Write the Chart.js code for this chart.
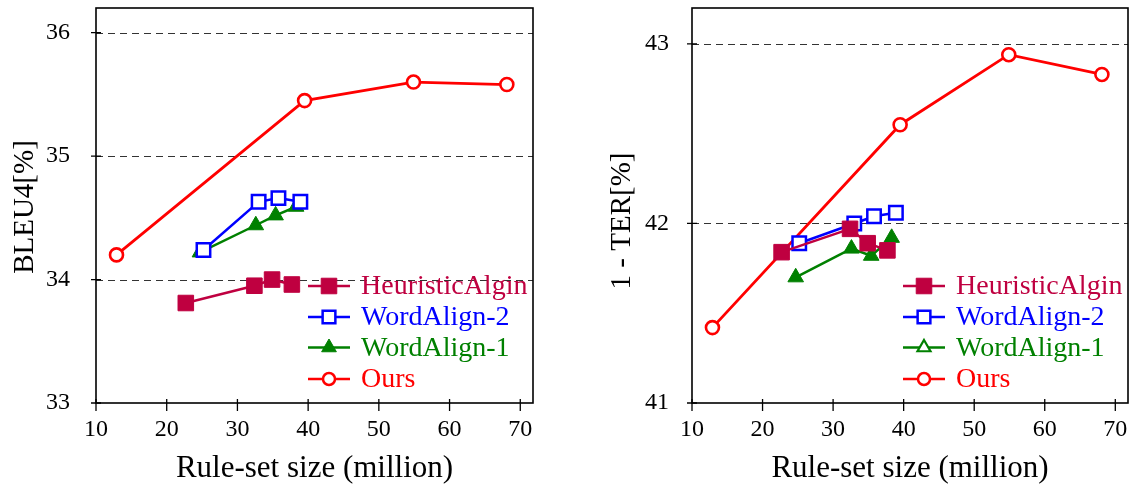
<!DOCTYPE html>
<html>
<head>
<meta charset="utf-8">
<script src="https://cdn.jsdelivr.net/npm/chart.js@4/dist/chart.umd.min.js"></script>
<style>
  html, body { margin: 0; padding: 0; background: #fff; }
  body { width: 1130px; height: 487px; position: relative; overflow: hidden; }
  .box { position: absolute; top: 0; height: 487px; }
  #leftBox { left: 0; width: 545px; }
  #rightBox { left: 600px; width: 540px; }
</style>
</head>
<body>
<div class="box" id="leftBox"><canvas id="bleuChart" width="545" height="487"></canvas></div>
<div class="box" id="rightBox"><canvas id="terChart" width="540" height="487"></canvas></div>
<script>
// Series names (legend order)
const seriesNames = ['HeuristicAlgin', 'WordAlign-2', 'WordAlign-1', 'Ours'];

// Rule-set sizes (million), shared by both panels
const heuristicSize = [22.7, 32.4, 34.9, 37.7];
const word2Size = [25.2, 33.0, 35.8, 38.9];
const word1Size = [24.7, 32.6, 35.4, 38.3];
const oursSize = [12.9, 39.5, 54.9, 68.1];

// Left panel: BLEU4 [%]
const bleuHeuristic = [33.81, 33.95, 34.00, 33.96];
const bleuWord2 = [34.24, 34.63, 34.66, 34.63];
const bleuWord1 = [34.22, 34.44, 34.52, 34.59];
const bleuOurs = [34.20, 35.45, 35.60, 35.58];

// Right panel: 1 - TER [%]
const terHeuristic = [41.84, 41.97, 41.89, 41.85];
const terWord2 = [41.89, 42.00, 42.04, 42.06];
const terWord1 = [41.70, 41.86, 41.82, 41.92];
const terOurs = [41.42, 42.55, 42.94, 42.83];

// Tick labels
const xTicks = [10, 20, 30, 40, 50, 60, 70];
const bleuTicks = [33, 34, 35, 36];
const terTicks = [41, 42, 43];

const PURPLE = '#BF0040', BLUE = '#0000FF', GREEN = '#008000', RED = '#FF0000';
const SERIF = '"Liberation Serif", "Times New Roman", serif';

Chart.defaults.font.family = SERIF;
Chart.defaults.color = '#000';

function pts(xs, ys) {
    return xs.map((x, i) => ({ x: x, y: ys[i] }));
}

// simple marker drawing, same geometry as Chart.js point styles
function drawMarker(ctx, style, x, y, r, fill, stroke, lw) {
    ctx.save();
    ctx.beginPath();
    if (style === 'rect') {
        const s = Math.SQRT1_2 * r;
        ctx.rect(x - s, y - s, 2 * s, 2 * s);
    } else if (style === 'triangle') {
        let a = 0;
        ctx.moveTo(x + Math.sin(a) * r, y - Math.cos(a) * r);
        a += 2 * Math.PI / 3;
        ctx.lineTo(x + Math.sin(a) * r, y - Math.cos(a) * r);
        a += 2 * Math.PI / 3;
        ctx.lineTo(x + Math.sin(a) * r, y - Math.cos(a) * r);
        ctx.closePath();
    } else {
        ctx.arc(x, y, r, 0, Math.PI * 2);
    }
    ctx.fillStyle = fill;
    ctx.fill();
    ctx.lineWidth = lw;
    ctx.strokeStyle = stroke;
    ctx.stroke();
    ctx.restore();
}

// dashed grid lines, frame, tick marks, y title and in-plot legend
const framePlugin = {
    id: 'frame',
    beforeDatasetsDraw(chart) {
        const { ctx, chartArea: a, scales } = chart;
        const yTicks = chart.options.plugins.frame.yTicks;
        ctx.save();
        ctx.strokeStyle = '#333';
        ctx.lineWidth = 1.2;
        ctx.setLineDash([7, 5]);
        yTicks.forEach(v => {
            const py = Math.round(scales.y.getPixelForValue(v)) + 0.5;
            if (py > a.top + 2 && py < a.bottom - 2) {
                ctx.beginPath();
                ctx.moveTo(a.left, py);
                ctx.lineTo(a.right, py);
                ctx.stroke();
            }
        });
        ctx.restore();
    },
    afterDatasetsDraw(chart) {
        const { ctx, chartArea: a, scales } = chart;
        const opts = chart.options.plugins.frame;
        ctx.save();
        ctx.strokeStyle = '#000';
        ctx.lineWidth = 1.6;
        ctx.strokeRect(a.left, a.top, a.right - a.left, a.bottom - a.top);
        ctx.lineWidth = 1.3;
        ctx.beginPath();
        xTicks.forEach(v => {
            const px = scales.x.getPixelForValue(v);
            ctx.moveTo(px, a.bottom - 4);
            ctx.lineTo(px, a.bottom + 8);
        });
        opts.yTicks.forEach(v => {
            const py = scales.y.getPixelForValue(v);
            ctx.moveTo(a.left - 5, py);
            ctx.lineTo(a.left + 5, py);
        });
        ctx.stroke();

        // y axis title
        ctx.save();
        ctx.translate(opts.yTitle.x, opts.yTitle.y);
        ctx.rotate(-Math.PI / 2);
        ctx.fillStyle = '#000';
        ctx.font = '29px ' + SERIF;
        ctx.textAlign = 'center';
        ctx.textBaseline = 'middle';
        ctx.fillText(opts.yTitle.text, 0, 0);
        ctx.restore();

        // legend
        const rowsY = [-117, -86, -55.5, -24];
        opts.legend.forEach((item, i) => {
            const y = a.bottom + rowsY[i];
            ctx.strokeStyle = item.color;
            ctx.lineWidth = 2.4;
            ctx.beginPath();
            ctx.moveTo(a.right - 225, y);
            ctx.lineTo(a.right - 183, y);
            ctx.stroke();
            drawMarker(ctx, item.style, a.right - 204, y, item.r, item.fill, item.color, item.lw);
            ctx.fillStyle = item.color;
            ctx.font = '28px ' + SERIF;
            ctx.textBaseline = 'middle';
            ctx.textAlign = 'left';
            ctx.fillText(seriesNames[i], a.right - 172, y + 1);
        });
        ctx.restore();
    }
};

function makeDatasets(h, w2, w1, o) {
    return [
        { label: seriesNames[0], data: pts(heuristicSize, h), borderColor: PURPLE, backgroundColor: PURPLE,
          borderWidth: 2.5, pointStyle: 'rect', pointRadius: 11, pointBorderWidth: 1, pointBackgroundColor: PURPLE },
        { label: seriesNames[1], data: pts(word2Size, w2), borderColor: BLUE, backgroundColor: BLUE,
          borderWidth: 2.5, pointStyle: 'rect', pointRadius: 9.5, pointBorderWidth: 2.5, pointBackgroundColor: '#fff' },
        { label: seriesNames[2], data: pts(word1Size, w1), borderColor: GREEN, backgroundColor: GREEN,
          borderWidth: 2.5, pointStyle: 'triangle', pointRadius: 9, pointBorderWidth: 1, pointBackgroundColor: GREEN },
        { label: seriesNames[3], data: pts(oursSize, o), borderColor: RED, backgroundColor: RED,
          borderWidth: 2.8, pointStyle: 'circle', pointRadius: 6.5, pointBorderWidth: 2.6, pointBackgroundColor: '#fff' }
    ];
}

function legendItems(word1Hollow) {
    return [
        { color: PURPLE, style: 'rect', r: 11, fill: PURPLE, lw: 1 },
        { color: BLUE, style: 'rect', r: 9, fill: '#fff', lw: 2.5 },
        { color: GREEN, style: 'triangle', r: word1Hollow ? 7.5 : 8.5, fill: word1Hollow ? '#fff' : GREEN, lw: word1Hollow ? 2.2 : 1 },
        { color: RED, style: 'circle', r: 6, fill: '#fff', lw: 2.5 }
    ];
}

function makeChart(id, datasets, yMin, yMax, yTicks, yTitle, yAxisWidth, yTickPad, word1Hollow) {
    return new Chart(document.getElementById(id), {
        type: 'line',
        data: { datasets: datasets },
        plugins: [framePlugin],
        options: {
            responsive: false,
            animation: false,
            layout: { autoPadding: false, padding: { top: 8, right: 12, left: 0, bottom: 0 } },
            plugins: {
                legend: { display: false },
                tooltip: { enabled: false },
                frame: { yTicks: yTicks, yTitle: yTitle, legend: legendItems(word1Hollow) }
            },
            scales: {
                x: {
                    type: 'linear', min: 10, max: 71.8,
                    grid: { display: false },
                    border: { display: false },
                    afterBuildTicks: s => { s.ticks = xTicks.map(v => ({ value: v })); },
                    afterFit: s => { s.height = 84; s.paddingLeft = 0; s.paddingRight = 0; },
                    ticks: { font: { size: 24 }, padding: 4, maxRotation: 0 },
                    title: { display: true, text: 'Rule-set size (million)', font: { size: 31 }, padding: { top: 0, bottom: 0 } }
                },
                y: {
                    type: 'linear', min: yMin, max: yMax,
                    grid: { display: false },
                    border: { display: false },
                    afterBuildTicks: s => { s.ticks = yTicks.map(v => ({ value: v })); },
                    afterFit: s => { s.width = yAxisWidth; s.paddingTop = 0; s.paddingBottom = 0; },
                    ticks: { font: { size: 24 }, padding: yTickPad },
                    title: { display: false }
                }
            }
        }
    });
}

makeChart('bleuChart', makeDatasets(bleuHeuristic, bleuWord2, bleuWord1, bleuOurs),
    33, 36.2, bleuTicks, { text: 'BLEU4[%]', x: 25, y: 207 }, 96, 18, false);
makeChart('terChart', makeDatasets(terHeuristic, terWord2, terWord1, terOurs),
    41, 43.2, terTicks, { text: '1 - TER[%]', x: 22, y: 221 }, 92, 15, true);
</script>
</body>
</html>
